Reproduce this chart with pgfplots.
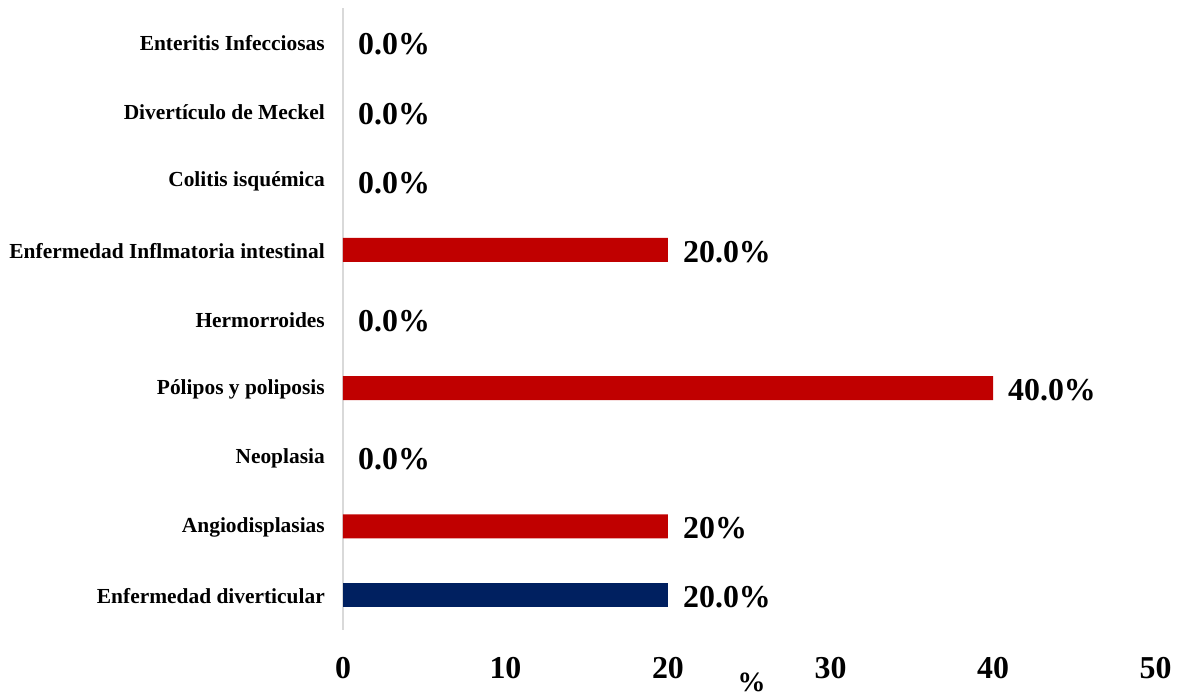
\documentclass[border=0pt]{standalone}
\usepackage{pgfplots}
\pgfplotsset{compat=1.18}
\usepackage{fontspec}
\setmainfont{Liberation Serif}
\definecolor{navyb}{HTML}{002060}
\definecolor{redb}{HTML}{C00000}
\definecolor{axgray}{HTML}{D9D9D9}
\begin{document}
\begin{tikzpicture}
\begin{axis}[
  name=ax,
  scale only axis,
  width=812.5bp, height=622bp,
  xmin=0, xmax=50, ymin=-0.5, ymax=8.5,
  xbar, bar width=24bp, bar shift=0pt,
  axis x line=none,
  axis y line*=left,
  x axis line style={draw=none},
  y axis line style={draw=axgray, line width=1.5bp},
  hide x axis=false,
  xtick={0,10,20,30,40,50},
  ytick={0,1,2,3,4,5,6,7,8},
  yticklabels={Enfermedad diverticular,Angiodisplasias,Neoplasia,Pólipos y poliposis,Hermorroides,Enfermedad Inflmatoria intestinal,Colitis isquémica,Divertículo de Meckel,Enteritis Infecciosas},
  major tick length=0pt,
  /pgf/number format/assume math mode=true,
  xticklabel style={font=\bfseries\fontsize{32}{32}\selectfont, anchor=center, inner sep=0pt, yshift=-38bp},
  yticklabel style={font=\bfseries\fontsize{21.5}{21.5}\selectfont, anchor=east, inner sep=0pt, xshift=-18bp, yshift=-1bp},
  xlabel={\%},
  xlabel style={font=\bfseries\fontsize{28}{28}\selectfont, at={(axis description cs:0.503,0)}, anchor=center, inner sep=0pt, yshift=-52bp},
  point meta=explicit symbolic,
  nodes near coords,
  nodes near coords style={font=\bfseries\fontsize{32}{32}\selectfont, anchor=west, inner sep=0pt, xshift=15bp, yshift=-2bp, text=black},
  clip=false,
]
\addplot[fill=navyb, draw=none] coordinates {(20,0) [20.0\%]};
\addplot[fill=redb, draw=none] coordinates {
  (20,1) [20\%]
  (40,3) [40.0\%]
  (20,5) [20.0\%]
};
\addplot[fill=none, draw=none] coordinates {
  (0,2) [0.0\%]
  (0,4) [0.0\%]
  (0,6) [0.0\%]
  (0,7) [0.0\%]
  (0,8) [0.0\%]
};
\end{axis}
\pgfresetboundingbox
\path ([xshift=-343bp,yshift=-65bp]ax.south west) rectangle ([xshift=23.5bp,yshift=8bp]ax.north east);
\end{tikzpicture}
\end{document}
